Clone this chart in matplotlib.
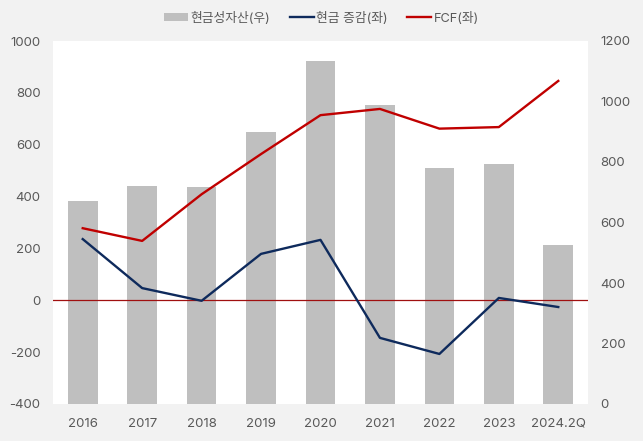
import matplotlib
matplotlib.use("Agg")
import matplotlib.pyplot as plt
import numpy as np

plt.rcParams['font.family'] = ['Inter', 'Noto Sans CJK KR', 'DejaVu Sans']
plt.rcParams['axes.unicode_minus'] = False

# data
years = ['2016', '2017', '2018', '2019', '2020', '2021', '2022', '2023', '2024.2Q']
cash_assets = [671, 721, 717, 899, 1134, 988, 780, 793, 527]   # 현금성자산 (right axis)
cash_change = [236, 47, -2, 179, 233, -145, -207, 9, -26]        # 현금 증감 (left axis)
fcf = [278, 229, 409, 564, 714, 738, 662, 668, 846]              # FCF (left axis)

bg = '#f2f2f2'
txt = '#595959'

fig = plt.figure(figsize=(6.43, 4.41), dpi=100)
fig.patch.set_facecolor(bg)
ax = fig.add_axes([53 / 643, 1 - 404 / 441, 535 / 643, 363 / 441])
ax2 = ax.twinx()

x = np.arange(len(years))

# bars on right axis, drawn behind the lines
b = ax2.bar(x, cash_assets, width=0.5, color='#bfbfbf', label='현금성자산(우)', zorder=1)
ax2.set_ylim(0, 1200)
ax2.set_yticks(range(0, 1201, 200))
ax2.patch.set_visible(True)
ax2.patch.set_facecolor('white')

ax.set_zorder(ax2.get_zorder() + 1)
ax.patch.set_visible(False)

ax.axhline(0, color='#a01010', lw=0.9, zorder=2)
l1, = ax.plot(x, cash_change, color='#0e2a5c', lw=1.7, label='현금 증감(좌)', zorder=3)
l2, = ax.plot(x, fcf, color='#c00000', lw=1.7, label='FCF(좌)', zorder=3)
ax.set_ylim(-400, 1000)
ax.set_yticks(range(-400, 1001, 200))
ax.set_xlim(-0.5, len(years) - 0.5)
ax.set_xticks(x)
ax.set_xticklabels(years)

for a in (ax, ax2):
    for s in a.spines.values():
        s.set_visible(False)
    a.tick_params(length=0, labelsize=9.5, colors=txt)
ax.tick_params(axis='y', pad=9)
ax.tick_params(axis='x', pad=10)
ax2.tick_params(axis='y', pad=9)

fig.legend([b, l1, l2], ['현금성자산(우)', '현금 증감(좌)', 'FCF(좌)'],
           loc='center', bbox_to_anchor=(0.5, 1 - 18 / 441), ncol=3, frameon=False,
           fontsize=9.2, labelcolor=txt, handlelength=1.9, handleheight=0.5,
           columnspacing=1.5, handletextpad=0.2)

fig.savefig('out.png', dpi=100, facecolor=bg)
